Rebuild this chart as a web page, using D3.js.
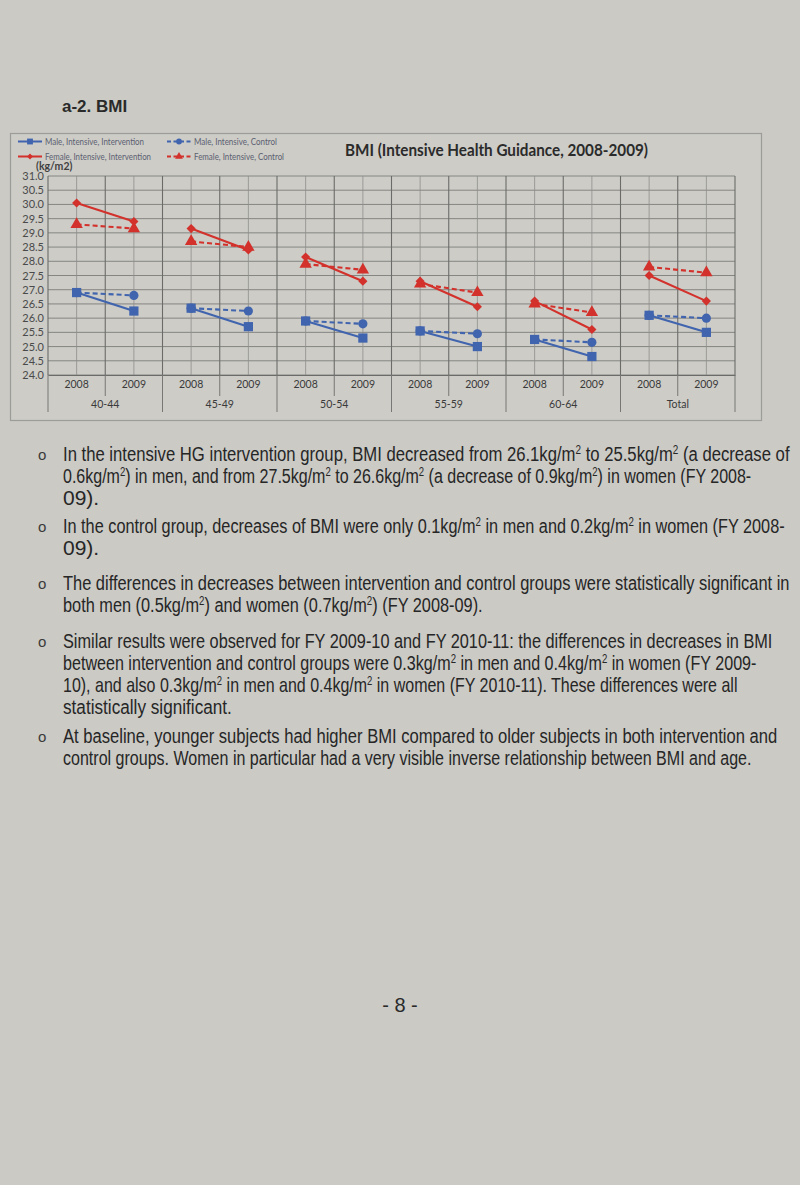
<!DOCTYPE html>
<html><head><meta charset="utf-8">
<script src="https://cdn.jsdelivr.net/npm/d3@7"></script>
<style>html,body{margin:0;padding:0;background:#cbcac5;}svg{display:block;}</style>
</head><body>
<script>
// ---------- data ----------
const groups = ["40-44", "45-49", "50-54", "55-59", "60-64", "Total"];
const years = ["2008", "2009"];
const yTicks = [24.0, 24.5, 25.0, 25.5, 26.0, 26.5, 27.0, 27.5, 28.0, 28.5, 29.0, 29.5, 30.0, 30.5, 31.0];
const maleInterv   = [[26.9, 26.25], [26.35, 25.7], [25.9, 25.3], [25.55, 25.0], [25.25, 24.65], [26.1, 25.5]];
const maleCtrl     = [[26.9, 26.8], [26.35, 26.25], [25.9, 25.8], [25.55, 25.45], [25.25, 25.15], [26.1, 26.0]];
const femaleInterv = [[30.05, 29.4], [29.15, 28.4], [28.15, 27.3], [27.3, 26.4], [26.6, 25.6], [27.5, 26.6]];
const femaleCtrl   = [[29.3, 29.15], [28.7, 28.5], [27.9, 27.7], [27.2, 26.9], [26.5, 26.2], [27.8, 27.6]];
const seriesNames = ["Male, Intensive, Intervention", "Male, Intensive, Control",
                     "Female, Intensive, Intervention", "Female, Intensive, Control"];
const pageTitle = "a-2. BMI";
const chartTitle = "BMI (Intensive Health Guidance, 2008-2009)";
const unitLabel = "(kg/m2)";
const bullets = [
  ["In the intensive HG intervention group, BMI decreased from 26.1kg/m{2} to 25.5kg/m{2} (a decrease of",
   "0.6kg/m{2}) in men, and from 27.5kg/m{2} to 26.6kg/m{2} (a decrease of 0.9kg/m{2}) in women (FY 2008-",
   "09)."],
  ["In the control group, decreases of BMI were only 0.1kg/m{2} in men and 0.2kg/m{2} in women (FY 2008-",
   "09)."],
  ["The differences in decreases between intervention and control groups were statistically significant in",
   "both men (0.5kg/m{2}) and women (0.7kg/m{2}) (FY 2008-09)."],
  ["Similar results were observed for FY 2009-10 and FY 2010-11: the differences in decreases in BMI",
   "between intervention and control groups were 0.3kg/m{2} in men and 0.4kg/m{2} in women (FY 2009-",
   "10), and also 0.3kg/m{2} in men and 0.4kg/m{2} in women (FY 2010-11). These differences were all",
   "statistically significant."],
  ["At baseline, younger subjects had higher BMI compared to older subjects in both intervention and",
   "control groups. Women in particular had a very visible inverse relationship between BMI and age."]
];
const pageNumber = "- 8 -";

// ---------- layout ----------
const W = 800, H = 1185;
const svg = d3.select("body").append("svg").attr("width", W).attr("height", H);
svg.append("rect").attr("width", W).attr("height", H).attr("fill", "#cbcac5");

const BLUE = "#4064ad", RED = "#d3312b";
const chartFont = "Lato, 'Open Sans', sans-serif";

svg.append("text").attr("x", 62).attr("y", 112).text(pageTitle)
  .attr("font-family", "'Liberation Sans', Arial, sans-serif").attr("font-weight", "bold")
  .attr("font-size", 17).attr("fill", "#2a2a2a");

// chart frame
svg.append("rect").attr("x", 10.5).attr("y", 133.5).attr("width", 751).attr("height", 287)
  .attr("fill", "#cdccc7").attr("stroke", "#9c9c9a").attr("stroke-width", 1.2);

const cats = [];
groups.forEach(g => years.forEach(yr => cats.push(g + "|" + yr)));
const x = d3.scaleBand().domain(cats).range([48, 735]).paddingInner(0).paddingOuter(0);
const y = d3.scaleLinear().domain([24, 31]).range([375, 176]);

// horizontal grid
svg.append("g").selectAll("line").data(yTicks).join("line")
  .attr("x1", 48).attr("x2", 735)
  .attr("y1", d => y(d)).attr("y2", d => y(d))
  .attr("stroke", "#7d7d7b").attr("stroke-width", 0.9);
// vertical grid: category boundaries (dark) and centers (light)
svg.append("g").selectAll("line").data(cats.concat(["end"])).join("line")
  .attr("x1", d => d === "end" ? 735 : x(d)).attr("x2", d => d === "end" ? 735 : x(d))
  .attr("y1", y(31)).attr("y2", y(24))
  .attr("stroke", "#6b6b69").attr("stroke-width", 1.1);
svg.append("g").selectAll("line").data(cats).join("line")
  .attr("x1", d => x(d) + x.bandwidth() / 2).attr("x2", d => x(d) + x.bandwidth() / 2)
  .attr("y1", y(31)).attr("y2", y(24))
  .attr("stroke", "#8e8e8c").attr("stroke-width", 0.8);

// y axis
const yAxis = d3.axisLeft(y).tickValues(yTicks).tickFormat(d3.format(".1f")).tickSize(0).tickPadding(4);
const ya = svg.append("g").attr("transform", "translate(48,0)").call(yAxis);
ya.select(".domain").remove();
ya.selectAll("text").attr("font-family", chartFont).attr("font-size", 11).attr("fill", "#4a4a4a");

svg.append("text").attr("x", 36).attr("y", 170).text(unitLabel)
  .attr("font-family", chartFont).attr("font-weight", "bold").attr("font-size", 10.5).attr("fill", "#3f3f3f");

// x axis: years
const xAxis = d3.axisBottom(x).tickFormat(d => d.split("|")[1]).tickSize(0).tickPadding(6);
const xa = svg.append("g").attr("transform", "translate(0,375)").call(xAxis);
xa.select(".domain").attr("stroke", "#6b6b69");
xa.selectAll("text").attr("font-family", chartFont).attr("font-size", 10.5).attr("fill", "#3a3a3a");
// tick separators
svg.append("g").selectAll("line").data(cats.concat(["end"])).join("line")
  .attr("x1", d => d === "end" ? 735 : x(d)).attr("x2", d => d === "end" ? 735 : x(d))
  .attr("y1", 375)
  .attr("y2", d => (d === "end" || d.endsWith("2008")) ? 412 : 396)
  .attr("stroke", "#777775").attr("stroke-width", 1);
// group labels
svg.append("g").selectAll("text").data(groups).join("text")
  .attr("x", g => x(g + "|2009"))
  .attr("y", 408).attr("text-anchor", "middle").text(g => g)
  .attr("font-family", chartFont).attr("font-size", 10.5).attr("fill", "#3a3a3a");

// chart title
svg.append("text").attr("x", 345).attr("y", 156).text(chartTitle)
  .attr("font-family", chartFont).attr("font-weight", "bold").attr("font-size", 17)
  .attr("textLength", 303).attr("lengthAdjust", "spacingAndGlyphs").attr("fill", "#2b2b2b");

// series
const series = [
  {name: seriesNames[1], data: maleCtrl, color: BLUE, dash: "5,3", sym: d3.symbolCircle, size: 66, rot: 0},
  {name: seriesNames[3], data: femaleCtrl, color: RED, dash: "5,3", sym: d3.symbolTriangle, size: 66, rot: 0},
  {name: seriesNames[0], data: maleInterv, color: BLUE, dash: null, sym: d3.symbolSquare, size: 85, rot: 0},
  {name: seriesNames[2], data: femaleInterv, color: RED, dash: null, sym: d3.symbolSquare, size: 42, rot: 45}
];
const cx = (gi, yi) => x(groups[gi] + "|" + years[yi]) + x.bandwidth() / 2;
const line = d3.line().x(d => d.x).y(d => d.y);
series.forEach(s => {
  const g = svg.append("g");
  s.data.forEach((pair, gi) => {
    const pts = pair.map((v, yi) => ({x: cx(gi, yi), y: y(v)}));
    g.append("path").attr("d", line(pts)).attr("fill", "none")
      .attr("stroke", s.color).attr("stroke-width", 2.1)
      .attr("stroke-dasharray", s.dash);
    g.selectAll(null).data(pts).join("path")
      .attr("d", d3.symbol().type(s.sym).size(s.size))
      .attr("transform", d => `translate(${d.x},${d.y}) rotate(${s.rot})`)
      .attr("fill", s.color);
  });
});

// legend
const legendItems = [
  {s: series[2], x: 18, y: 141.5, tl: 99},
  {s: series[0], x: 167, y: 141.5, tl: 83},
  {s: series[3], x: 18, y: 156.5, tl: 106},
  {s: series[1], x: 167, y: 156.5, tl: 90}
];
legendItems.forEach(it => {
  const g = svg.append("g");
  g.append("line").attr("x1", it.x).attr("x2", it.x + 24).attr("y1", it.y).attr("y2", it.y)
    .attr("stroke", it.s.color).attr("stroke-width", 2).attr("stroke-dasharray", it.s.dash ? "4,2.5" : null);
  g.append("path").attr("d", d3.symbol().type(it.s.sym).size(it.s.size * 0.4))
    .attr("transform", `translate(${it.x + 12},${it.y}) rotate(${it.s.rot})`).attr("fill", it.s.color);
  g.append("text").attr("x", it.x + 27).attr("y", it.y + 3.5).text(it.s.name)
    .attr("font-family", chartFont).attr("font-size", 10).attr("fill", "#5b6070")
    .attr("textLength", it.tl).attr("lengthAdjust", "spacingAndGlyphs");
});

// body text (each line horizontally scaled to the reference's measured width)
const bodyFont = "'Liberation Sans', Arial, sans-serif";
const lineWidths = [[727, 689, 37], [722, 37], [727, 420], [710, 694, 675, 169], [715, 689]];
const baselines = [[461, 483, 505], [533, 555], [590, 612], [648, 670, 692, 714], [743, 765]];
function addLine(txt, xx, yy, target) {
  const g = svg.append("g");
  const t = g.append("text").attr("x", 0).attr("y", 0)
    .attr("font-family", bodyFont).attr("font-size", 21).attr("fill", "#262626");
  txt.split(/(\{2\})/).forEach(part => {
    if (part === "{2}") {
      t.append("tspan").attr("font-size", 12.5).attr("baseline-shift", "55%").text("2");
    } else if (part.length) {
      t.append("tspan").text(part);
    }
  });
  const natural = t.node().getComputedTextLength();
  const sx = Math.min(1.0, target / natural);
  g.attr("transform", `translate(${xx},${yy}) scale(${sx},1)`);
}
bullets.forEach((b, bi) => {
  svg.append("text").attr("x", 38).attr("y", baselines[bi][0] - 1).text("o")
    .attr("font-family", bodyFont).attr("font-size", 15).attr("fill", "#3a3a3a");
  b.forEach((ln, li) => addLine(ln, 63, baselines[bi][li], lineWidths[bi][li]));
});

svg.append("text").attr("x", 400).attr("y", 1012).attr("text-anchor", "middle").text(pageNumber)
  .attr("font-family", bodyFont).attr("font-size", 20).attr("fill", "#2a2a2a");
</script>
</body></html>
